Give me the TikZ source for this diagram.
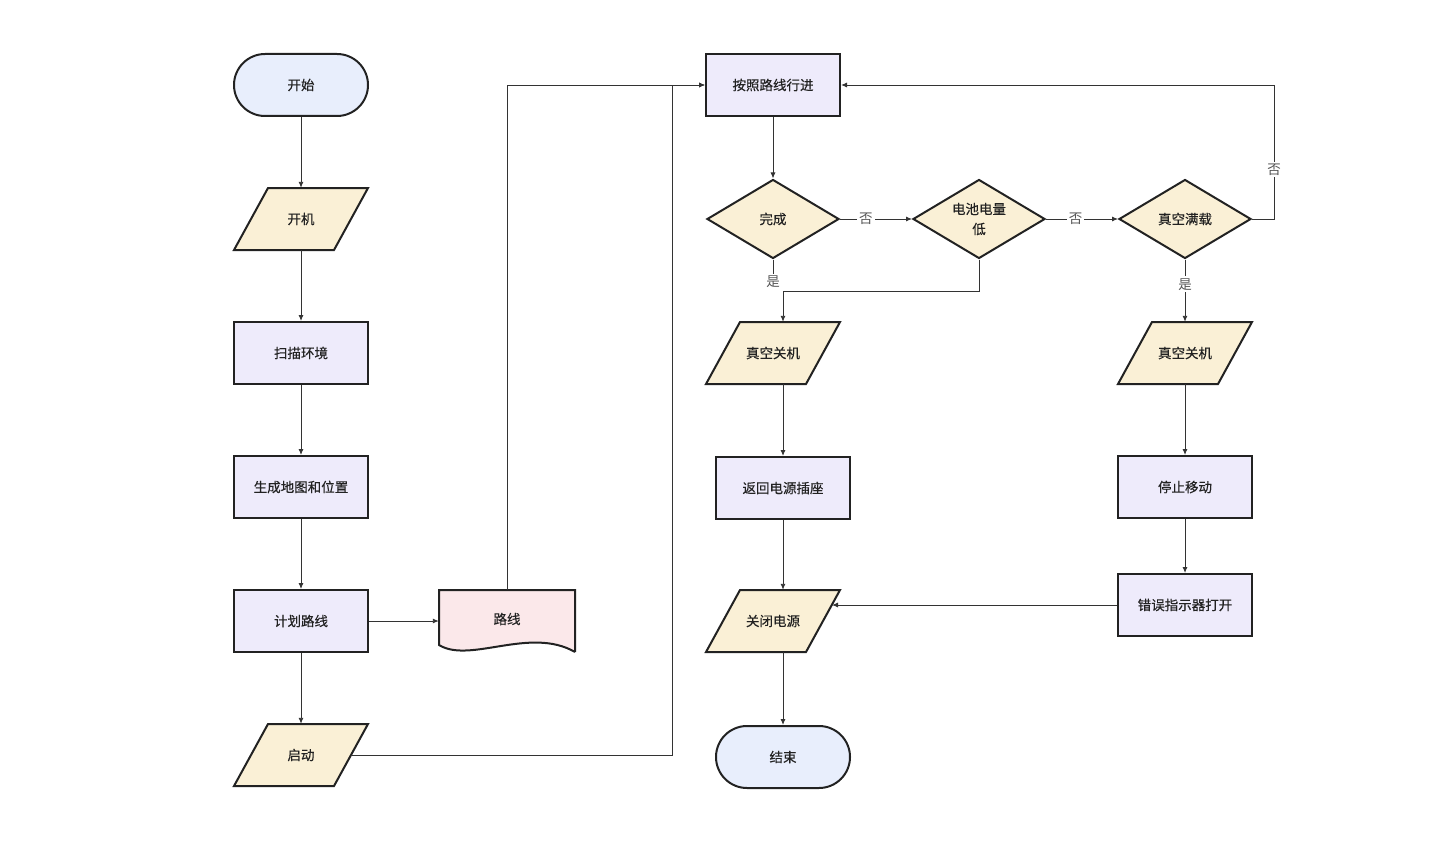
\documentclass[tikz,border=0pt]{standalone}
\usepackage{fontspec}
\setmainfont{Noto Sans CJK SC}
\newfontfamily\nodefont{Noto Sans CJK SC}[FakeBold=0.35]
\usetikzlibrary{shapes.geometric,arrows.meta}
\definecolor{termfill}{HTML}{E8EEFC}
\definecolor{pgfillc}{HTML}{FAF0D6}
\definecolor{rectfill}{HTML}{EEEBFB}
\definecolor{docfill}{HTML}{FBE8EA}
\definecolor{bordc}{HTML}{222222}
\definecolor{linec}{HTML}{333333}
\definecolor{lblc}{HTML}{555555}
\tikzset{
  base/.style={font=\nodefont\fontsize{13.5}{20}\selectfont, text=bordc},
  term/.style={base, draw=bordc, line width=2pt, fill=termfill, rectangle, rounded corners=31pt, minimum width=134pt, minimum height=62pt},
  proc/.style={base, draw=bordc, line width=2pt, fill=rectfill, rectangle, minimum width=134pt, minimum height=62pt},
  dec/.style={base, draw=bordc, line width=2pt, fill=pgfillc, diamond, aspect=1.67, inner sep=0pt, minimum width=132pt, minimum height=79pt, align=center},
  pgshape/.style={draw=bordc, line width=2pt, fill=pgfillc, line join=miter},
  pgtext/.style={base, rectangle, minimum width=100pt, minimum height=62pt},
  arr/.style={draw=linec, line width=0.9pt, -{Latex[length=6pt,width=5pt]}},
  ln/.style={draw=linec, line width=0.9pt},
  lbl/.style={font=\fontsize{13.5}{16}\selectfont, text=lblc, fill=white, inner sep=2pt},
}
\newcommand\pgnode[4]{%
  \filldraw[pgshape] ({#2-33},{#3-31}) -- ({#2+67},{#3-31}) -- ({#2+33},{#3+31}) -- ({#2-67},{#3+31}) -- cycle;
  \node[pgtext] (#1) at (#2,#3) {#4};}
\begin{document}
\begin{tikzpicture}[x=1pt,y=-1pt]
\useasboundingbox (0,0) rectangle (1442,848);
% left column
\node[term] (start) at (301,85) {开始};
\pgnode{kj}{301}{219}{开机}
\node[proc] (scan) at (301,353) {扫描环境};
\node[proc] (map) at (301,487) {生成地图和位置};
\node[proc] (plan) at (301,621) {计划路线};
\pgnode{qd}{301}{755}{启动}
% document
\filldraw[draw=bordc, line width=2pt, fill=docfill, line join=miter]
  (575,652) -- (575,590) -- (439,590) -- (439,645)
  .. controls (470,664) and (530,626) .. (575,652);
\node[base, rectangle, minimum width=136pt, minimum height=62pt] (doc) at (507,621) {\raisebox{5pt}{路线}};
% middle column
\node[proc] (go) at (773,85) {按照路线行进};
\node[dec] (done) at (773,219) {完成};
\node[dec] (bat) at (979,219) {电池电量\\低};
\node[dec] (full) at (1185,219) {真空满载};
\pgnode{vs1}{773}{353}{真空关机}
\node[proc] (ret) at (783,488) {返回电源插座};
\pgnode{gb}{773}{621}{关闭电源}
\node[term] (end) at (783,757) {结束};
% right column
\pgnode{vs2}{1185}{353}{真空关机}
\node[proc] (stop) at (1185,487) {停止移动};
\node[proc] (err) at (1185,605) {错误指示器打开};
% helper coordinates
\coordinate (j) at (672,755);
\coordinate (gbin) at (832,605);
% connectors
\draw[arr] (start) -- (kj);
\draw[arr] (kj) -- (scan);
\draw[arr] (scan) -- (map);
\draw[arr] (map) -- (plan);
\draw[arr] (plan) -- (qd);
\draw[arr] (plan.east) -- (doc.west);
\draw[arr] (doc.north) |- (go.west);
\draw[arr] (qd.east) -- (j) |- (go.west);
\draw[arr] (go) -- (done);
\draw[arr] (done.east) -- node[lbl, pos=0.36] {否} (bat.west);
\draw[arr] (bat.east) -- node[lbl, pos=0.41] {否} (full.west);
\draw[arr] (full.east) -- ++(22,0) -- node[lbl, pos=0.37] {否} ++(0,-134) -- (go.east);
\node[lbl] (yes1) at (773,282) {是};
\draw[ln] (done.south) -- (yes1.north);
\draw[arr] (bat.south) -- ++(0,32) -| ([xshift=10pt]vs1.north);
\draw[arr] (full.south) -- node[lbl, pos=0.4] {是} (vs2.north);
\draw[arr] ([xshift=10pt]vs1.south) -- (ret.north);
\draw[arr] (ret.south) -- ([xshift=10pt]gb.north);
\draw[arr] ([xshift=10pt]gb.south) -- (end.north);
\draw[arr] (vs2) -- (stop);
\draw[arr] (stop) -- (err);
\draw[arr] (err.west) -- (gbin);
\end{tikzpicture}
\end{document}
